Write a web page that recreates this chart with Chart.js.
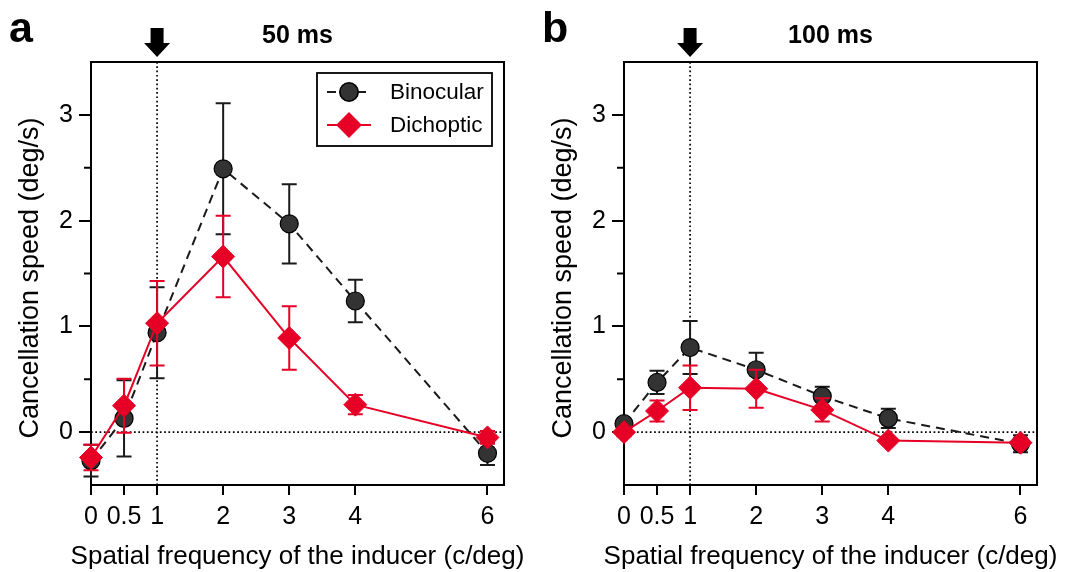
<!DOCTYPE html>
<html><head><meta charset="utf-8">
<script src="https://cdn.jsdelivr.net/npm/chart.js@4/dist/chart.umd.min.js"></script>
<style>
html,body{margin:0;padding:0;background:#fff;}
#wrap{position:relative;width:1070px;height:572px;overflow:hidden;}
.p{position:absolute;top:0;width:535px;height:572px;}
</style></head><body>
<div id="wrap">
<div class="p" style="left:0"><canvas id="ca" width="535" height="572"></canvas></div>
<div class="p" style="left:535px"><canvas id="cb" width="535" height="572"></canvas></div>
</div>
<script>
// ---- data ----
const freqs = [0, 0.5, 1, 2, 3, 4, 6];
const xTicks = [0, 0.5, 1, 2, 3, 4, 6];
const yTicks = [0, 1, 2, 3];
const yMinorTicks = [0.5, 1.5, 2.5];
const seriesNames = ['Binocular', 'Dichoptic'];
const panelTitles = ['50 ms', '100 ms'];
const panelLetters = ['a', 'b'];
const xTitle = 'Spatial frequency of the inducer (c/deg)';
const yTitle = 'Cancellation speed (deg/s)';
const bin50 = [-0.27, 0.13, 0.94, 2.49, 1.97, 1.24, -0.20];
const bin50Err = [0.15, 0.36, 0.43, 0.62, 0.375, 0.20, 0.11];
const dic50 = [-0.24, 0.25, 1.03, 1.66, 0.89, 0.26, -0.05];
const dic50Err = [0.12, 0.255, 0.40, 0.385, 0.30, 0.09, 0.06];
const bin100 = [0.08, 0.47, 0.80, 0.59, 0.34, 0.13, -0.11];
const bin100Err = [0.04, 0.11, 0.25, 0.16, 0.09, 0.09, 0.08];
const dic100 = [0.00, 0.20, 0.42, 0.41, 0.21, -0.08, -0.10];
const dic100Err = [0.04, 0.10, 0.21, 0.18, 0.11, 0.03, 0.03];
const refX = 1;

const FONT = "'Liberation Sans', Arial, sans-serif";
const BLACK = '#1a1a1a';
const RED = '#e60026';

const errPlugin = {
  id: 'err',
  beforeDatasetDraw(chart, args) {
    const ds = chart.data.datasets[args.index];
    if (!ds.errors) return;
    const xs = chart.scales.x, ys = chart.scales.y, ctx = chart.ctx;
    ctx.save();
    ctx.strokeStyle = ds.borderColor; ctx.lineWidth = 2; ctx.setLineDash([]);
    ds.data.forEach((p, i) => {
      const e = ds.errors[i];
      const px = xs.getPixelForValue(p.x);
      const y1 = ys.getPixelForValue(p.y + e), y2 = ys.getPixelForValue(p.y - e);
      ctx.beginPath();
      ctx.moveTo(px, y1); ctx.lineTo(px, y2);
      ctx.moveTo(px - 7.5, y1); ctx.lineTo(px + 7.5, y1);
      ctx.moveTo(px - 7.5, y2); ctx.lineTo(px + 7.5, y2);
      ctx.stroke();
    });
    ctx.restore();
  }
};

const decoPlugin = {
  id: 'deco',
  beforeDatasetsDraw(chart, args, opts) {
    const { ctx, chartArea: a, scales: { x, y } } = chart;
    ctx.save();
    ctx.strokeStyle = '#000';
    ctx.lineWidth = 1.7; ctx.setLineDash([1.7, 2.6]);
    const x1 = x.getPixelForValue(refX);
    const y0 = y.getPixelForValue(0);
    ctx.beginPath();
    ctx.moveTo(x1, a.top); ctx.lineTo(x1, a.bottom);
    ctx.moveTo(a.left, y0); ctx.lineTo(a.right, y0);
    ctx.stroke();
    ctx.setLineDash([]);
    ctx.lineWidth = 2;
    ctx.strokeRect(a.left, a.top, a.right - a.left, a.bottom - a.top);
    yMinorTicks.forEach(v => {
      const py = y.getPixelForValue(v);
      ctx.beginPath(); ctx.moveTo(a.left - 7, py); ctx.lineTo(a.left, py); ctx.stroke();
    });
    ctx.restore();
  },
  afterDraw(chart, args, opts) {
    const { ctx, chartArea: a, scales: { x } } = chart;
    ctx.save();
    ctx.fillStyle = '#000';
    // panel letter
    ctx.font = "bold 43px " + FONT; ctx.textAlign = 'left'; ctx.textBaseline = 'alphabetic';
    ctx.fillText(opts.letter, opts.letterX, 42);
    // title
    ctx.font = "bold 25px " + FONT; ctx.textAlign = 'center';
    ctx.fillText(opts.title, (a.left + a.right) / 2, 43);
    // arrow
    const ax = x.getPixelForValue(refX);
    ctx.beginPath();
    ctx.moveTo(ax - 6.5, 28); ctx.lineTo(ax + 6.5, 28); ctx.lineTo(ax + 6.5, 43);
    ctx.lineTo(ax + 13, 43); ctx.lineTo(ax, 57); ctx.lineTo(ax - 13, 43);
    ctx.lineTo(ax - 6.5, 43); ctx.closePath(); ctx.fill();
    // axis titles
    ctx.font = "26px " + FONT; ctx.textAlign = 'center'; ctx.textBaseline = 'alphabetic';
    ctx.fillText(xTitle, (a.left + a.right) / 2, 564);
    ctx.save();
    ctx.font = "27px " + FONT;
    ctx.translate(opts.yTitleX, 278);
    ctx.rotate(-Math.PI / 2);
    ctx.fillText(yTitle, 0, 0);
    ctx.restore();
    // legend
    if (opts.legend) {
      const bx = a.left + 226, by = 73, bw = 175, bh = 73;
      ctx.lineWidth = 1.8; ctx.strokeStyle = '#000';
      ctx.strokeRect(bx, by, bw, bh);
      const rows = [by + 19, by + 52];
      chart.data.datasets.forEach((ds, i) => {
        const ry = rows[i];
        ctx.save();
        ctx.strokeStyle = ds.borderColor; ctx.lineWidth = ds.borderWidth;
        ctx.setLineDash(ds.borderDash || []);
        ctx.beginPath(); ctx.moveTo(bx + 10, ry); ctx.lineTo(bx + 54, ry); ctx.stroke();
        ctx.setLineDash([]);
        Chart.helpers.drawPoint(ctx, {
          pointStyle: ds.pointStyle, radius: ds.pointRadius, rotation: 0,
          borderWidth: ds.pointBorderWidth
        }, bx + 32, ry);
        ctx.fillStyle = ds.pointBackgroundColor; ctx.strokeStyle = ds.pointBorderColor;
        ctx.lineWidth = ds.pointBorderWidth;
        ctx.fill(); ctx.stroke();
        ctx.restore();
        ctx.fillStyle = '#000'; ctx.font = "22.5px " + FONT;
        ctx.textAlign = 'left'; ctx.textBaseline = 'middle';
        ctx.fillText(ds.label, bx + 73, ry + 1);
      });
    }
    ctx.restore();
  }
};

function makeChart(id, bin, binErr, dic, dicErr, p) {
  return new Chart(document.getElementById(id), {
    type: 'line',
    data: {
      datasets: [
        {
          label: seriesNames[0], data: freqs.map((x, i) => ({ x, y: bin[i] })), errors: binErr,
          borderColor: BLACK, backgroundColor: '#333333', pointBackgroundColor: '#333333',
          pointBorderColor: '#000000', pointBorderWidth: 1.2, pointRadius: 9, pointStyle: 'circle',
          borderDash: [9, 6], borderWidth: 2, order: 2, clip: false, tension: 0
        },
        {
          label: seriesNames[1], data: freqs.map((x, i) => ({ x, y: dic[i] })), errors: dicErr,
          borderColor: RED, backgroundColor: RED, pointBackgroundColor: RED,
          pointBorderColor: RED, pointBorderWidth: 1, pointRadius: 11.5, pointStyle: 'rectRot',
          borderWidth: 2, order: 1, clip: false, tension: 0
        }
      ]
    },
    options: {
      responsive: false, animation: false, events: [],
      layout: { padding: { left: 0, right: p.right, top: 62, bottom: 0 } },
      plugins: {
        legend: { display: false }, tooltip: { enabled: false },
        deco: { letter: p.letter, letterX: p.letterX, title: p.title, legend: p.legend, yTitleX: p.yTitleX }
      },
      scales: {
        x: {
          type: 'linear', min: 0, max: 6.25,
          afterBuildTicks: s => { s.ticks = xTicks.map(v => ({ value: v })); },
          afterFit: s => { s.height = 87; },
          grid: { drawOnChartArea: false, tickLength: 10, color: '#000', lineWidth: 2 },
          border: { display: false },
          ticks: { color: '#000', font: { family: FONT, size: 25 }, padding: 7, maxRotation: 0, autoSkip: false, callback: v => String(v) }
        },
        y: {
          type: 'linear', min: -0.5, max: 3.5,
          afterBuildTicks: s => { s.ticks = yTicks.map(v => ({ value: v })); },
          afterFit: s => { s.width = p.left; },
          grid: { drawOnChartArea: false, tickLength: 12, color: '#000', lineWidth: 2 },
          border: { display: false },
          ticks: { color: '#000', font: { family: FONT, size: 25 }, padding: 6, callback: v => String(v) }
        }
      }
    },
    plugins: [errPlugin, decoPlugin]
  });
}

makeChart('ca', bin50, bin50Err, dic50, dic50Err,
  { left: 91, right: 31, letter: panelLetters[0], letterX: 9, title: panelTitles[0], legend: true, yTitleX: 38 });
makeChart('cb', bin100, bin100Err, dic100, dic100Err,
  { left: 89, right: 33, letter: panelLetters[1], letterX: 7, title: panelTitles[1], legend: false, yTitleX: 36 });
</script>
</body></html>
